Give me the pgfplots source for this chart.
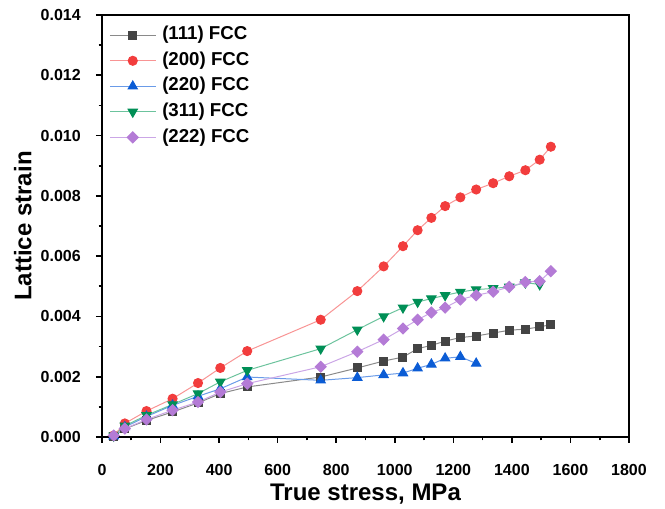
\documentclass[border=0pt]{standalone}
\usepackage{fontspec}
\setmainfont{Liberation Sans}
\usepackage{pgfplots}
\pgfplotsset{compat=1.18}
\definecolor{cK}{HTML}{444444}\definecolor{lK}{HTML}{8A8A8A}
\definecolor{cR}{HTML}{F23D3D}\definecolor{lR}{HTML}{F89494}
\definecolor{cB}{HTML}{0B5CD5}\definecolor{lB}{HTML}{6A9BE8}
\definecolor{cG}{HTML}{008F56}\definecolor{lG}{HTML}{6CC39D}
\definecolor{cP}{HTML}{B47BD6}\definecolor{lP}{HTML}{CBA6E6}
\begin{document}
\begin{tikzpicture}
\begin{axis}[
  scale only axis, width=395.25pt, height=316.5pt,
  xmin=0, xmax=1800, ymin=0, ymax=0.014,
  xtick={0,200,...,1800}, ytick={0,0.002,...,0.0141},
  minor x tick num=1, minor y tick num=1,
  tick pos=left, tick align=outside,
  major tick length=4.5pt, minor tick length=2.6pt,
  every tick/.style={black, line width=1.2pt},
  axis line style={line width=1.5pt},
  scaled y ticks=false, scaled x ticks=false,
  /pgf/number format/assume math mode=true,
  xticklabel={\bfseries\pgfmathprintnumber[1000 sep={}]{\tick}},
  yticklabel={\bfseries\pgfmathprintnumber[fixed,fixed zerofill,precision=3]{\tick}},
  yticklabel style={anchor=east, inner sep=0pt, xshift=-11.25pt, font=\bfseries\fontsize{12}{14}\selectfont},
  xticklabel style={anchor=north, inner sep=0pt, yshift=-15.75pt, font=\bfseries\fontsize{12}{14}\selectfont},
  xlabel={True stress, MPa}, ylabel={Lattice strain},
  xlabel style={at={(axis description cs:0.5,-0.1114)}, anchor=north, inner sep=0pt, font=\bfseries\fontsize{18}{21}\selectfont},
  ylabel style={at={(axis description cs:-0.1330,0.5)}, anchor=south, inner sep=0pt, font=\bfseries\fontsize{18}{21}\selectfont},
  legend style={at={(0,1)}, anchor=north west, xshift=5.25pt, yshift=-8pt, draw=none, fill=none, inner sep=0pt, row sep=5.15pt, column sep=4.5pt, font=\bfseries\fontsize{14}{16}\selectfont, nodes={inner sep=0pt, text height=10.5pt, text depth=3.5pt}},
  legend cell align=left,
  legend image code/.code={\draw[mark repeat=2,mark phase=2] plot coordinates {(0pt,0pt)(17.25pt,0pt)(34.5pt,0pt)};},
]
\addplot[lK, line width=0.75pt, mark=square*, mark size=3pt, mark options={draw=cK, fill=cK}] coordinates {
(40,0.00003)(78,0.00027)(152,0.00055)(241,0.00083)(328,0.00113)(404,0.00144)(496,0.00166)(747,0.00199)(872,0.00229)(962,0.00252)(1028,0.00265)(1078,0.00293)(1125,0.00304)(1172,0.00318)(1224,0.00330)(1278,0.00335)(1336,0.00345)(1391,0.00354)(1446,0.00358)(1495,0.00365)(1533,0.00373)};
\addlegendentry{(111) FCC}
\addplot[lR, line width=0.75pt, mark=*, mark size=3.4pt, mark options={draw=cR, fill=cR}] coordinates {
(40,0.00005)(78,0.00045)(152,0.00086)(241,0.00127)(328,0.00179)(404,0.00229)(496,0.00285)(747,0.00389)(872,0.00484)(962,0.00566)(1028,0.00633)(1078,0.00686)(1125,0.00727)(1172,0.00766)(1224,0.00795)(1278,0.00821)(1336,0.00842)(1391,0.00865)(1446,0.00885)(1495,0.00920)(1533,0.00963)};
\addlegendentry{(200) FCC}
\addplot[lB, line width=0.75pt, mark=triangle*, mark size=4pt, mark options={draw=cB, fill=cB}] coordinates {
(40,0.00003)(78,0.00033)(152,0.00068)(241,0.00105)(328,0.00135)(404,0.00160)(496,0.00199)(747,0.00188)(872,0.00197)(962,0.00206)(1028,0.00212)(1078,0.00228)(1125,0.00241)(1172,0.00261)(1224,0.00266)(1278,0.00244)};
\addlegendentry{(220) FCC}
\addplot[lG, line width=0.75pt, mark=triangle*, mark size=4pt, mark options={draw=cG, fill=cG, rotate=180}] coordinates {
(40,0.00004)(78,0.00037)(152,0.00072)(241,0.00108)(328,0.00144)(404,0.00183)(496,0.00221)(747,0.00293)(872,0.00356)(962,0.00400)(1028,0.00429)(1078,0.00448)(1125,0.00459)(1172,0.00470)(1224,0.00481)(1278,0.00489)(1336,0.00493)(1391,0.00498)(1446,0.00512)(1495,0.00506)};
\addlegendentry{(311) FCC}
\addplot[lP, line width=0.75pt, mark=square*, mark size=2.9pt, mark options={draw=cP, fill=cP, rotate=45}] coordinates {
(40,0.00005)(78,0.00028)(152,0.00058)(241,0.00089)(328,0.00116)(404,0.00149)(496,0.00177)(747,0.00233)(872,0.00283)(962,0.00323)(1028,0.00360)(1078,0.00389)(1125,0.00413)(1172,0.00429)(1224,0.00456)(1278,0.00470)(1336,0.00482)(1391,0.00498)(1446,0.00514)(1495,0.00517)(1533,0.00550)};
\addlegendentry{(222) FCC}
\end{axis}
\pgfresetboundingbox
\path[use as bounding box] ([xshift=-76.5pt,yshift=-54pt]current axis.south west) rectangle ([xshift=27pt,yshift=11.25pt]current axis.north east);
\end{tikzpicture}
\end{document}
